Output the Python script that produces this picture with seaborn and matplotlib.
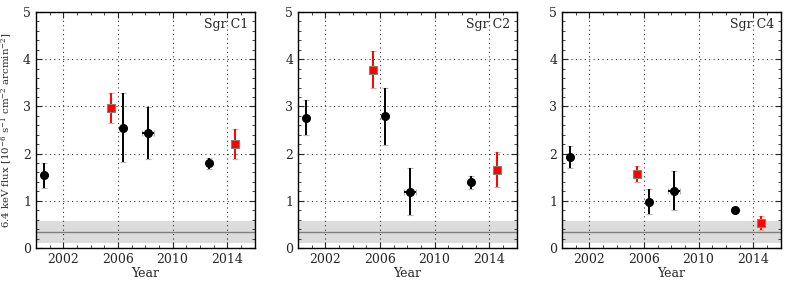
import matplotlib
matplotlib.use('Agg')
import matplotlib.pyplot as plt
import seaborn as sns
from matplotlib.ticker import MultipleLocator

sns.set_style("ticks")
plt.rcParams['font.family'] = ['DejaVu Serif']
plt.rcParams['mathtext.fontset'] = 'dejavuserif'

regions = ["Sgr C1", "Sgr C2", "Sgr C4"]

# black points: year, flux, lower err, upper err, year err
black_year = [2000.6, 2006.4, 2008.2, 2012.7]
black_year_err = [0.1, 0.1, 0.45, 0.1]
red_year = [2005.5, 2014.6]
red_year_err = [0.1, 0.1]

black_flux = {
    "Sgr C1": [1.55, 2.55, 2.43, 1.79],
    "Sgr C2": [2.76, 2.79, 1.19, 1.39],
    "Sgr C4": [1.93, 0.98, 1.21, 0.81],
}
black_lo = {
    "Sgr C1": [0.27, 0.73, 0.55, 0.11],
    "Sgr C2": [0.37, 0.60, 0.50, 0.13],
    "Sgr C4": [0.24, 0.26, 0.41, 0.04],
}
black_hi = {
    "Sgr C1": [0.26, 0.73, 0.55, 0.11],
    "Sgr C2": [0.38, 0.60, 0.50, 0.13],
    "Sgr C4": [0.24, 0.26, 0.42, 0.04],
}
red_flux = {
    "Sgr C1": [2.97, 2.20],
    "Sgr C2": [3.78, 1.66],
    "Sgr C4": [1.57, 0.53],
}
red_err = {
    "Sgr C1": [0.32, 0.32],
    "Sgr C2": [0.40, 0.37],
    "Sgr C4": [0.17, 0.15],
}

bkg_level = 0.34
bkg_lo, bkg_hi = 0.10, 0.58

fig = plt.figure(figsize=(7.89, 2.86), dpi=100)
lefts = [0.0456, 0.3777, 0.7123]
width = 0.277
axes = [fig.add_axes([l, 0.133, width, 0.825]) for l in lefts]

for ax, reg in zip(axes, regions):
    ax.axhspan(bkg_lo, bkg_hi, color='#dcdcdc', zorder=0, lw=0)
    ax.axhline(bkg_level, color='#808080', lw=1, zorder=1)

    _, caps, _ = ax.errorbar(black_year, black_flux[reg], yerr=[black_lo[reg], black_hi[reg]],
                             xerr=black_year_err, fmt='o', color='black', ms=5.5,
                             elinewidth=1.4, capsize=2.5, capthick=0.8, zorder=4)
    for c in caps:
        c.set_markeredgecolor('#b4b4b4')
        c.set_zorder(3)
    _, caps, _ = ax.errorbar(red_year, red_flux[reg], yerr=red_err[reg], xerr=red_year_err,
                             fmt='s', color='red', mfc='red', mec='#808080', mew=0.8, ms=6,
                             elinewidth=1.4, capsize=2.5, capthick=0.8, zorder=4)
    for c in caps:
        c.set_markeredgecolor('#f0a0a0')
        c.set_zorder(3)

    ax.set_xlim(2000, 2016)
    ax.set_ylim(0, 5)
    ax.set_xticks([2002, 2006, 2010, 2014])
    ax.xaxis.set_minor_locator(MultipleLocator(1))
    ax.set_yticks([0, 1, 2, 3, 4, 5])
    ax.yaxis.set_minor_locator(MultipleLocator(0.2))
    ax.grid(True, which='major', color='black', ls=(0, (1, 3)), lw=0.8, alpha=0.8)
    ax.tick_params(which='both', direction='in', top=True, right=True, labelsize=9)
    ax.tick_params(which='major', length=4, width=0.8)
    ax.tick_params(which='minor', length=2, width=0.6)
    for s in ax.spines.values():
        s.set_color('black')
        s.set_linewidth(1.0)
    ax.set_xlabel("Year", fontsize=9, labelpad=1)
    ax.text(0.97, 0.975, reg, transform=ax.transAxes, ha='right', va='top', fontsize=9)

axes[0].set_ylabel(r"6.4 keV flux [$10^{-6}$ s$^{-1}$ cm$^{-2}$ arcmin$^{-2}$]", fontsize=7.3, labelpad=6)

fig.savefig("out.png", dpi=100)
